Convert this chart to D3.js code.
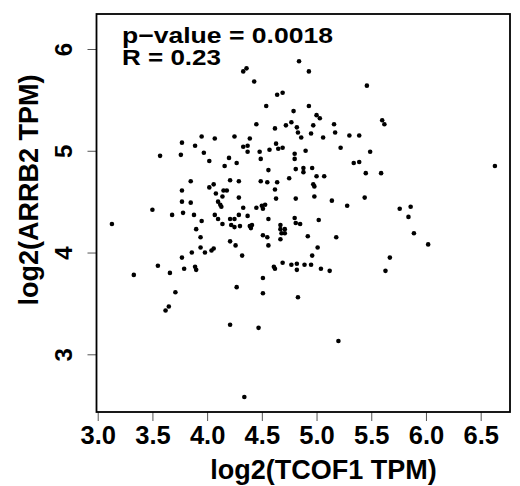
<!DOCTYPE html>
<html>
<head>
<meta charset="utf-8">
<script src="https://cdn.jsdelivr.net/npm/d3@7"></script>
<style>
  body { margin: 0; background: #fff; }
  svg { display: block; font-family: "Liberation Sans", Arial, sans-serif; font-weight: bold; }
</style>
</head>
<body>
<svg id="chart" width="520" height="486"></svg>
<script>
// log2(TCOF1 TPM)
const tcof1 = [4.33, 4.36, 4.43, 4.84, 4.93, 4.64, 4.69, 4.54, 4.79, 4.93, 4.45, 4.62, 4.72, 4.77, 4.82, 4.83, 4.86,
  3.95, 4.07, 4.25, 4.39, 5.46, 5.00, 5.03, 4.97, 5.16, 5.17, 4.95, 5.06, 5.30, 5.39, 5.60, 5.62,
  3.77, 3.89, 3.57, 3.76, 3.97, 4.02, 4.33, 4.37, 4.37, 4.48, 4.49, 4.57, 4.63, 4.65, 4.69, 4.80, 4.80, 4.90,
  4.20, 4.27, 4.16, 4.56, 4.81, 4.88, 4.88, 4.75, 3.85, 3.77, 4.02, 4.06, 4.21, 4.29, 4.49, 4.55, 4.64, 4.62,
  4.08, 4.15, 4.18, 4.14, 4.10, 4.12, 4.13, 4.29, 4.63, 4.81, 3.77, 3.85, 3.50, 3.68, 3.78, 3.88, 3.95, 4.07,
  4.10, 4.14, 4.21, 4.25, 4.22, 4.25, 4.29, 4.30, 4.33, 4.37, 4.39, 4.40, 4.41, 4.45, 4.50, 4.51, 4.53, 4.56,
  4.67, 4.67, 4.71, 4.68, 4.71, 4.80, 4.81, 4.85, 4.92, 3.13, 3.90, 3.94, 4.51, 4.55, 4.67, 4.56, 4.21, 4.26,
  3.94, 3.98, 4.04, 4.06, 3.86, 3.77, 4.32, 3.55, 3.79, 3.89, 3.90, 4.61, 4.62, 4.69, 4.77, 4.82, 4.89, 4.95, 4.82,
  5.22, 5.49, 5.34, 5.39, 4.96, 5.00, 5.07, 5.45, 5.59, 6.63, 4.97, 4.98, 4.98, 5.14, 5.44, 5.28, 5.76, 5.86,
  5.84, 5.89, 6.02, 5.02, 5.18, 5.01, 4.96, 5.67, 5.04, 5.12, 5.63, 3.33, 3.66, 3.71, 3.65, 3.62, 4.27, 4.51,
  4.51, 4.83, 4.21, 4.47, 5.20, 4.34];
// log2(ARRB2 TPM)
const arrb2 = [5.78, 5.81, 5.68, 5.88, 5.78, 5.55, 5.57, 5.44, 5.39, 5.44, 5.26, 5.22, 5.25, 5.28, 5.23, 5.18, 5.13,
  5.14, 5.12, 5.14, 5.12, 5.64, 5.35, 5.32, 5.25, 5.26, 5.18, 5.17, 5.13, 5.15, 5.15, 5.30, 5.26,
  5.08, 5.05, 4.95, 4.96, 4.98, 4.90, 5.04, 5.05, 4.99, 4.99, 4.92, 5.01, 5.07, 5.02, 5.03, 4.97, 4.92, 5.00,
  4.93, 4.88, 4.85, 4.81, 4.82, 4.83, 4.79, 4.73, 4.70, 4.61, 4.64, 4.67, 4.71, 4.70, 4.70, 4.69, 4.69, 4.62,
  4.58, 4.61, 4.61, 4.55, 4.50, 4.47, 4.45, 4.54, 4.53, 4.53, 4.50, 4.49, 4.42, 4.37, 4.39, 4.37, 4.31, 4.37,
  4.33, 4.28, 4.33, 4.33, 4.27, 4.25, 4.37, 4.26, 4.44, 4.36, 4.26, 4.24, 4.27, 4.44, 4.46, 4.43, 4.47, 4.33,
  4.27, 4.23, 4.23, 4.19, 4.19, 4.34, 4.29, 4.28, 4.16, 4.28, 4.23, 4.15, 4.17, 4.15, 4.13, 4.07, 4.11, 4.07,
  4.05, 4.00, 4.02, 4.04, 4.00, 3.95, 3.97, 3.87, 3.84, 3.86, 3.83, 3.86, 3.84, 3.90, 3.88, 3.89, 3.88, 3.88, 3.83,
  5.03, 4.99, 4.88, 4.89, 4.83, 4.75, 4.75, 4.78, 4.78, 4.85, 4.67, 4.65, 4.55, 4.51, 4.54, 4.46, 4.43, 4.45,
  4.35, 4.19, 4.08, 4.32, 4.15, 4.05, 3.97, 3.95, 3.84, 3.82, 3.82, 3.78, 3.80, 3.61, 3.47, 3.43, 3.66, 3.75,
  3.60, 3.56, 3.29, 3.26, 3.13, 2.58];

const xTicks = [3.0, 3.5, 4.0, 4.5, 5.0, 5.5, 6.0, 6.5];
const yTicks = [3, 4, 5, 6];
const statLines = ["p\u2212value = 0.0018", "R = 0.23"];

const data = tcof1.map((v, i) => ({ x: v, y: arrb2[i] }));

const margin = { top: 14, left: 96.5 };
const width = 413.5;
const height = 398;

const svg = d3.select("#chart")
  .append("g")
  .attr("transform", `translate(${margin.left},${margin.top})`);

const x = d3.scaleLinear().domain([2.989, 6.768]).range([0, width]);
const y = d3.scaleLinear().domain([2.433, 6.344]).range([height, 0]);

// points
svg.selectAll("circle")
  .data(data)
  .enter().append("circle")
  .attr("cx", d => x(d.x))
  .attr("cy", d => y(d.y))
  .attr("r", 2.3)
  .attr("fill", "#000");

// x axis
const gx = svg.append("g")
  .attr("transform", `translate(0,${height})`)
  .call(d3.axisBottom(x).tickValues(xTicks).tickFormat(d3.format(".1f")).tickSize(9).tickSizeOuter(0));
gx.select(".domain").remove();
gx.selectAll("line").attr("stroke", "#555");
gx.selectAll("text")
  .attr("fill", "#000")
  .attr("y", 32)
  .attr("dy", 0)
  .style("font-size", "25.5px");

// y axis
const gy = svg.append("g")
  .call(d3.axisLeft(y).tickValues(yTicks).tickFormat(d3.format("d")).tickSize(9).tickSizeOuter(0));
gy.select(".domain").remove();
gy.selectAll("line").attr("stroke", "#555");
gy.selectAll("text")
  .attr("fill", "#000")
  .attr("x", 0)
  .attr("dy", 0)
  .attr("text-anchor", "middle")
  .attr("transform", "translate(-24.5,0) rotate(-90)")
  .style("font-size", "24px");

// frame
svg.append("rect")
  .attr("width", width)
  .attr("height", height)
  .attr("fill", "none")
  .attr("stroke", "#000")
  .attr("stroke-width", 1.8);

// axis titles
svg.append("text")
  .attr("x", 227)
  .attr("y", 465)
  .attr("text-anchor", "middle")
  .style("font-size", "27px")
  .text("log2(TCOF1 TPM)");

svg.append("text")
  .attr("transform", `translate(-59,176) rotate(-90)`)
  .attr("text-anchor", "middle")
  .style("font-size", "27px")
  .text("log2(ARRB2 TPM)");

// stats
svg.selectAll(".stat")
  .data(statLines)
  .enter().append("text")
  .attr("class", "stat")
  .attr("x", 25.5)
  .attr("y", (d, i) => 28.5 + i * 22.5)
  .attr("textLength", (d, i) => i === 0 ? 211 : 99)
  .attr("lengthAdjust", "spacingAndGlyphs")
  .style("font-size", "22px")
  .text(d => d);
</script>
</body>
</html>
